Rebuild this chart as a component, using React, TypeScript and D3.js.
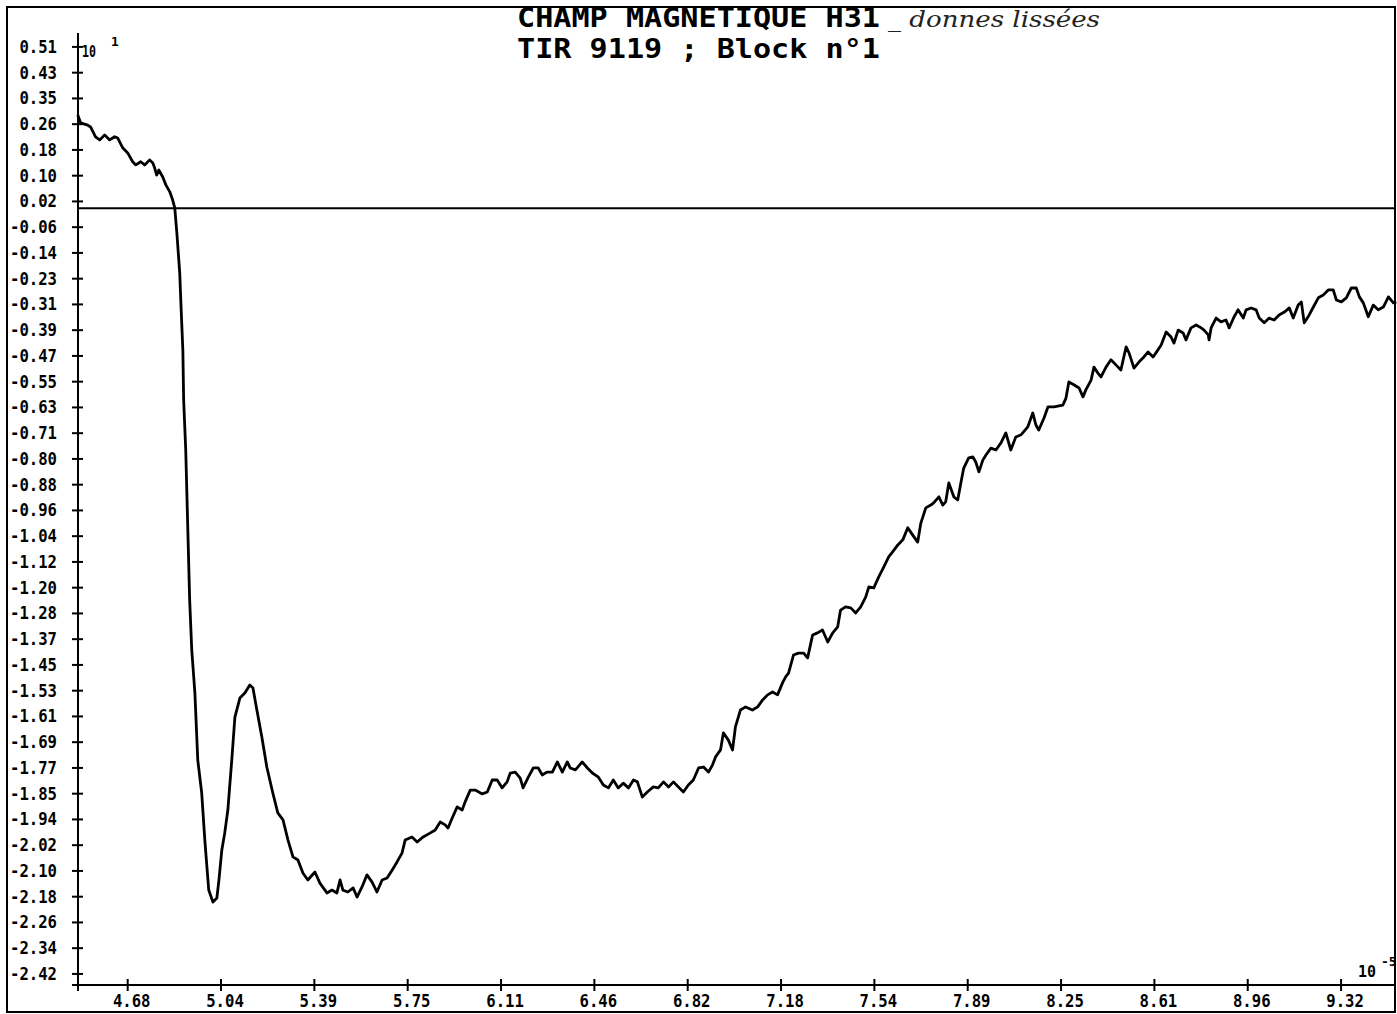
import React from "react";
import * as d3 from "d3";

// time axis (x 10^-5) and smoothed field (x 10^1)
const times = [
  4.489, 4.5, 4.527, 4.538, 4.557, 4.573, 4.592, 4.611, 4.63, 4.642, 4.661, 4.68, 4.699, 4.711, 4.73, 4.745, 4.764,
  4.776, 4.783, 4.791, 4.799, 4.814, 4.826, 4.841, 4.852, 4.86, 4.868, 4.879, 4.883, 4.891, 4.894, 4.902, 4.91, 4.917,
  4.925, 4.937, 4.948, 4.963, 4.975, 4.983, 4.99, 5.006, 5.021, 5.029, 5.04, 5.051, 5.063, 5.078, 5.09, 5.109, 5.128,
  5.147, 5.159, 5.174, 5.193, 5.212, 5.235, 5.254, 5.274, 5.293, 5.312, 5.331, 5.35, 5.369, 5.396, 5.415, 5.442, 5.461,
  5.48, 5.492, 5.503, 5.522, 5.542, 5.557, 5.576, 5.595, 5.614, 5.633, 5.653, 5.672, 5.691, 5.71, 5.729, 5.741, 5.767,
  5.787, 5.81, 5.836, 5.856, 5.875, 5.894, 5.905, 5.921, 5.94, 5.959, 5.97, 5.99, 6.009, 6.036, 6.055, 6.074, 6.093,
  6.112, 6.131, 6.143, 6.162, 6.181, 6.192, 6.212, 6.231, 6.25, 6.265, 6.284, 6.304, 6.323, 6.342, 6.361, 6.372, 6.392,
  6.418, 6.438, 6.457, 6.48, 6.499, 6.518, 6.537, 6.556, 6.575, 6.595, 6.614, 6.629, 6.648, 6.667, 6.69, 6.709, 6.729,
  6.748, 6.767, 6.786, 6.805, 6.824, 6.843, 6.863, 6.882, 6.901, 6.916, 6.928, 6.947, 6.958, 6.977, 6.993, 7.004, 7.023,
  7.043, 7.069, 7.089, 7.108, 7.127, 7.146, 7.165, 7.184, 7.196, 7.207, 7.226, 7.245, 7.265, 7.28, 7.299, 7.318, 7.337,
  7.357, 7.376, 7.395, 7.406, 7.425, 7.445, 7.464, 7.483, 7.502, 7.514, 7.533, 7.552, 7.571, 7.59, 7.605, 7.625, 7.644,
  7.663, 7.682, 7.701, 7.713, 7.732, 7.751, 7.762, 7.782, 7.797, 7.808, 7.82, 7.839, 7.854, 7.866, 7.877, 7.896, 7.912,
  7.923, 7.935, 7.95, 7.962, 7.981, 8.0, 8.019, 8.038, 8.057, 8.076, 8.096, 8.122, 8.141, 8.153, 8.164, 8.184, 8.199,
  8.222, 8.256, 8.268, 8.279, 8.298, 8.318, 8.333, 8.344, 8.364, 8.375, 8.39, 8.402, 8.421, 8.44, 8.459, 8.478, 8.498,
  8.509, 8.528, 8.547, 8.566, 8.582, 8.601, 8.612, 8.632, 8.651, 8.67, 8.681, 8.697, 8.716, 8.727, 8.746, 8.766, 8.785,
  8.796, 8.812, 8.815, 8.823, 8.842, 8.861, 8.88, 8.892, 8.911, 8.926, 8.946, 8.957, 8.976, 8.995, 9.007, 9.026, 9.045,
  9.064, 9.083, 9.103, 9.122, 9.137, 9.156, 9.168, 9.179, 9.194, 9.214, 9.233, 9.252, 9.271, 9.29, 9.302, 9.321, 9.34,
  9.359, 9.378, 9.39, 9.405, 9.424, 9.443, 9.462, 9.482, 9.501, 9.52, 9.531,
];
const field = [
  0.295, 0.27, 0.263, 0.257, 0.226, 0.216, 0.232, 0.216, 0.226, 0.222, 0.191, 0.175, 0.147, 0.137, 0.147, 0.137, 0.153,
  0.143, 0.128, 0.105, 0.121, 0.099, 0.074, 0.052, 0.026, 0.001, -0.078, -0.204, -0.29, -0.45, -0.606, -0.764, -1.017,
  -1.238, -1.396, -1.532, -1.744, -1.848, -1.997, -2.082, -2.155, -2.193, -2.18, -2.123, -2.028, -1.975, -1.902, -1.744,
  -1.608, -1.548, -1.532, -1.507, -1.516, -1.586, -1.671, -1.766, -1.848, -1.911, -1.933, -1.997, -2.05, -2.06, -2.101,
  -2.123, -2.098, -2.133, -2.164, -2.155, -2.164, -2.123, -2.155, -2.161, -2.148, -2.177, -2.145, -2.107, -2.129, -2.161,
  -2.123, -2.117, -2.092, -2.066, -2.038, -1.997, -1.987, -2.003, -1.987, -1.975, -1.965, -1.94, -1.949, -1.959, -1.927,
  -1.892, -1.902, -1.877, -1.839, -1.839, -1.851, -1.845, -1.807, -1.807, -1.832, -1.813, -1.785, -1.782, -1.801, -1.832,
  -1.798, -1.769, -1.769, -1.791, -1.782, -1.782, -1.75, -1.782, -1.75, -1.769, -1.775, -1.75, -1.769, -1.785, -1.798,
  -1.823, -1.832, -1.807, -1.832, -1.817, -1.832, -1.807, -1.813, -1.861, -1.845, -1.829, -1.832, -1.813, -1.829, -1.813,
  -1.829, -1.845, -1.823, -1.807, -1.769, -1.766, -1.782, -1.76, -1.734, -1.712, -1.658, -1.681, -1.712, -1.639, -1.586,
  -1.576, -1.586, -1.576, -1.554, -1.538, -1.529, -1.538, -1.5, -1.481, -1.469, -1.412, -1.406, -1.406, -1.421, -1.349,
  -1.342, -1.333, -1.371, -1.342, -1.323, -1.27, -1.26, -1.263, -1.279, -1.26, -1.229, -1.197, -1.2, -1.165, -1.134,
  -1.102, -1.086, -1.064, -1.048, -1.01, -1.033, -1.055, -0.995, -0.947, -0.938, -0.931, -0.912, -0.938, -0.928, -0.868,
  -0.912, -0.922, -0.868, -0.821, -0.789, -0.786, -0.802, -0.833, -0.796, -0.78, -0.758, -0.764, -0.742, -0.71, -0.764,
  -0.723, -0.716, -0.691, -0.647, -0.685, -0.701, -0.663, -0.628, -0.628, -0.622, -0.6, -0.549, -0.558, -0.568, -0.596,
  -0.574, -0.543, -0.502, -0.521, -0.533, -0.502, -0.479, -0.495, -0.511, -0.438, -0.457, -0.505, -0.486, -0.47, -0.454,
  -0.47, -0.457, -0.432, -0.391, -0.407, -0.426, -0.385, -0.394, -0.416, -0.378, -0.369, -0.378, -0.385, -0.4, -0.416,
  -0.378, -0.347, -0.359, -0.353, -0.378, -0.343, -0.321, -0.347, -0.321, -0.315, -0.321, -0.347, -0.362, -0.347,
  -0.353, -0.337, -0.328, -0.315, -0.347, -0.306, -0.296, -0.362, -0.343, -0.312, -0.283, -0.274, -0.258, -0.258, -0.29,
  -0.296, -0.283, -0.252, -0.252, -0.28, -0.299, -0.343, -0.306, -0.321, -0.312, -0.28, -0.299, -0.296,
];

const yTickLabels = [
  "0.51", "0.43", "0.35", "0.26", "0.18", "0.10", "0.02", "-0.06", "-0.14", "-0.23", "-0.31", "-0.39", "-0.47",
  "-0.55", "-0.63", "-0.71", "-0.80", "-0.88", "-0.96", "-1.04", "-1.12", "-1.20", "-1.28", "-1.37", "-1.45",
  "-1.53", "-1.61", "-1.69", "-1.77", "-1.85", "-1.94", "-2.02", "-2.10", "-2.18", "-2.26", "-2.34", "-2.42",
];
const xTickLabels = [
  "4.68", "5.04", "5.39", "5.75", "6.11", "6.46", "6.82", "7.18", "7.54", "7.89", "8.25", "8.61", "8.96", "9.32",
];

const W = 1397;
const H = 1014;
const axisLeft = 78;
const axisBottom = 985;
const axisTop = 33;
const frameRight = 1395;
const mono = "'DejaVu Sans Mono', monospace";
const charW = 9.4; // narrow plotter glyphs

export default function App() {
  const x = d3.scaleLinear().domain([4.49, 9.53]).range([axisLeft, W - 1]);
  const y = d3.scaleLinear().domain([-2.455, 0.554]).range([axisBottom, axisTop]);

  // ticks are evenly spaced between the first and last printed value
  const yFirst = Number(yTickLabels[0]);
  const yLast = Number(yTickLabels[yTickLabels.length - 1]);
  const yTicks = yTickLabels.map((label, i) => ({
    label,
    v: yFirst + ((yLast - yFirst) * i) / (yTickLabels.length - 1),
  }));
  const xFirst = Number(xTickLabels[0]);
  const xLast = Number(xTickLabels[xTickLabels.length - 1]);
  const xTicks = xTickLabels.map((label, i) => ({
    label,
    v: xFirst + ((xLast - xFirst) * i) / (xTickLabels.length - 1),
  }));

  const pts = times.map((t, i) => [t, field[i]] as [number, number]);
  const line = d3
    .line<[number, number]>()
    .x(d => x(d[0]))
    .y(d => y(d[1]));

  return (
    <svg width={W} height={H} style={{ position: "absolute", left: 0, top: 0, background: "#fff" }}>
      <rect x={0} y={0} width={W} height={H} fill="#fff" />
      {/* outer frame */}
      <rect x={7} y={7} width={frameRight - 7} height={1005} fill="none" stroke="#000" strokeWidth={2} />

      {/* title */}
      <text x={517} y={27} fontFamily={mono} fontWeight="bold" fontSize={26} textLength={363} lengthAdjust="spacingAndGlyphs">
        CHAMP MAGNETIQUE H31
      </text>
      <text x={517} y={58} fontFamily={mono} fontWeight="bold" fontSize={26} textLength={363} lengthAdjust="spacingAndGlyphs">
        TIR 9119 ; Block n°1
      </text>
      <text x={888} y={27} fontFamily="'DejaVu Serif', serif" fontStyle="italic" fontSize={22} fill="#222" textLength={212} lengthAdjust="spacingAndGlyphs">
        _ donnes lissées
      </text>

      {/* zero line */}
      <line x1={axisLeft} x2={frameRight} y1={y(0)} y2={y(0)} stroke="#000" strokeWidth={2} />

      {/* y axis */}
      <line x1={axisLeft} x2={axisLeft} y1={axisTop} y2={axisBottom + 6} stroke="#000" strokeWidth={2} />
      {yTicks.map(t => (
        <g key={t.label}>
          <line x1={axisLeft - 6} x2={axisLeft + 5} y1={y(t.v)} y2={y(t.v)} stroke="#000" strokeWidth={2} />
          <text
            x={57}
            y={y(t.v) + 6}
            textAnchor="end"
            fontFamily={mono}
            fontWeight="bold"
            fontSize={17}
            textLength={t.label.length * charW}
            lengthAdjust="spacingAndGlyphs"
          >
            {t.label}
          </text>
        </g>
      ))}
      <text x={82} y={57} fontFamily={mono} fontWeight="bold" fontSize={16} textLength={14} lengthAdjust="spacingAndGlyphs">10</text>
      <text x={111} y={46} fontFamily={mono} fontWeight="bold" fontSize={13}>1</text>

      {/* x axis */}
      <line x1={axisLeft - 6} x2={frameRight} y1={axisBottom} y2={axisBottom} stroke="#000" strokeWidth={2} />
      {xTicks.map(t => (
        <g key={t.label}>
          <line x1={x(t.v)} x2={x(t.v)} y1={axisBottom - 6} y2={axisBottom + 6} stroke="#000" strokeWidth={2} />
          <text
            x={x(t.v) + 4}
            y={1007}
            textAnchor="middle"
            fontFamily={mono}
            fontWeight="bold"
            fontSize={17}
            textLength={t.label.length * charW}
            lengthAdjust="spacingAndGlyphs"
          >
            {t.label}
          </text>
        </g>
      ))}
      <text x={1358} y={977} fontFamily={mono} fontWeight="bold" fontSize={16} textLength={18} lengthAdjust="spacingAndGlyphs">10</text>
      <text x={1381} y={966} fontFamily={mono} fontWeight="bold" fontSize={13}>-5</text>

      {/* signal */}
      <path d={line(pts) ?? ""} fill="none" stroke="#000" strokeWidth={2.8} strokeLinejoin="round" />
    </svg>
  );
}
